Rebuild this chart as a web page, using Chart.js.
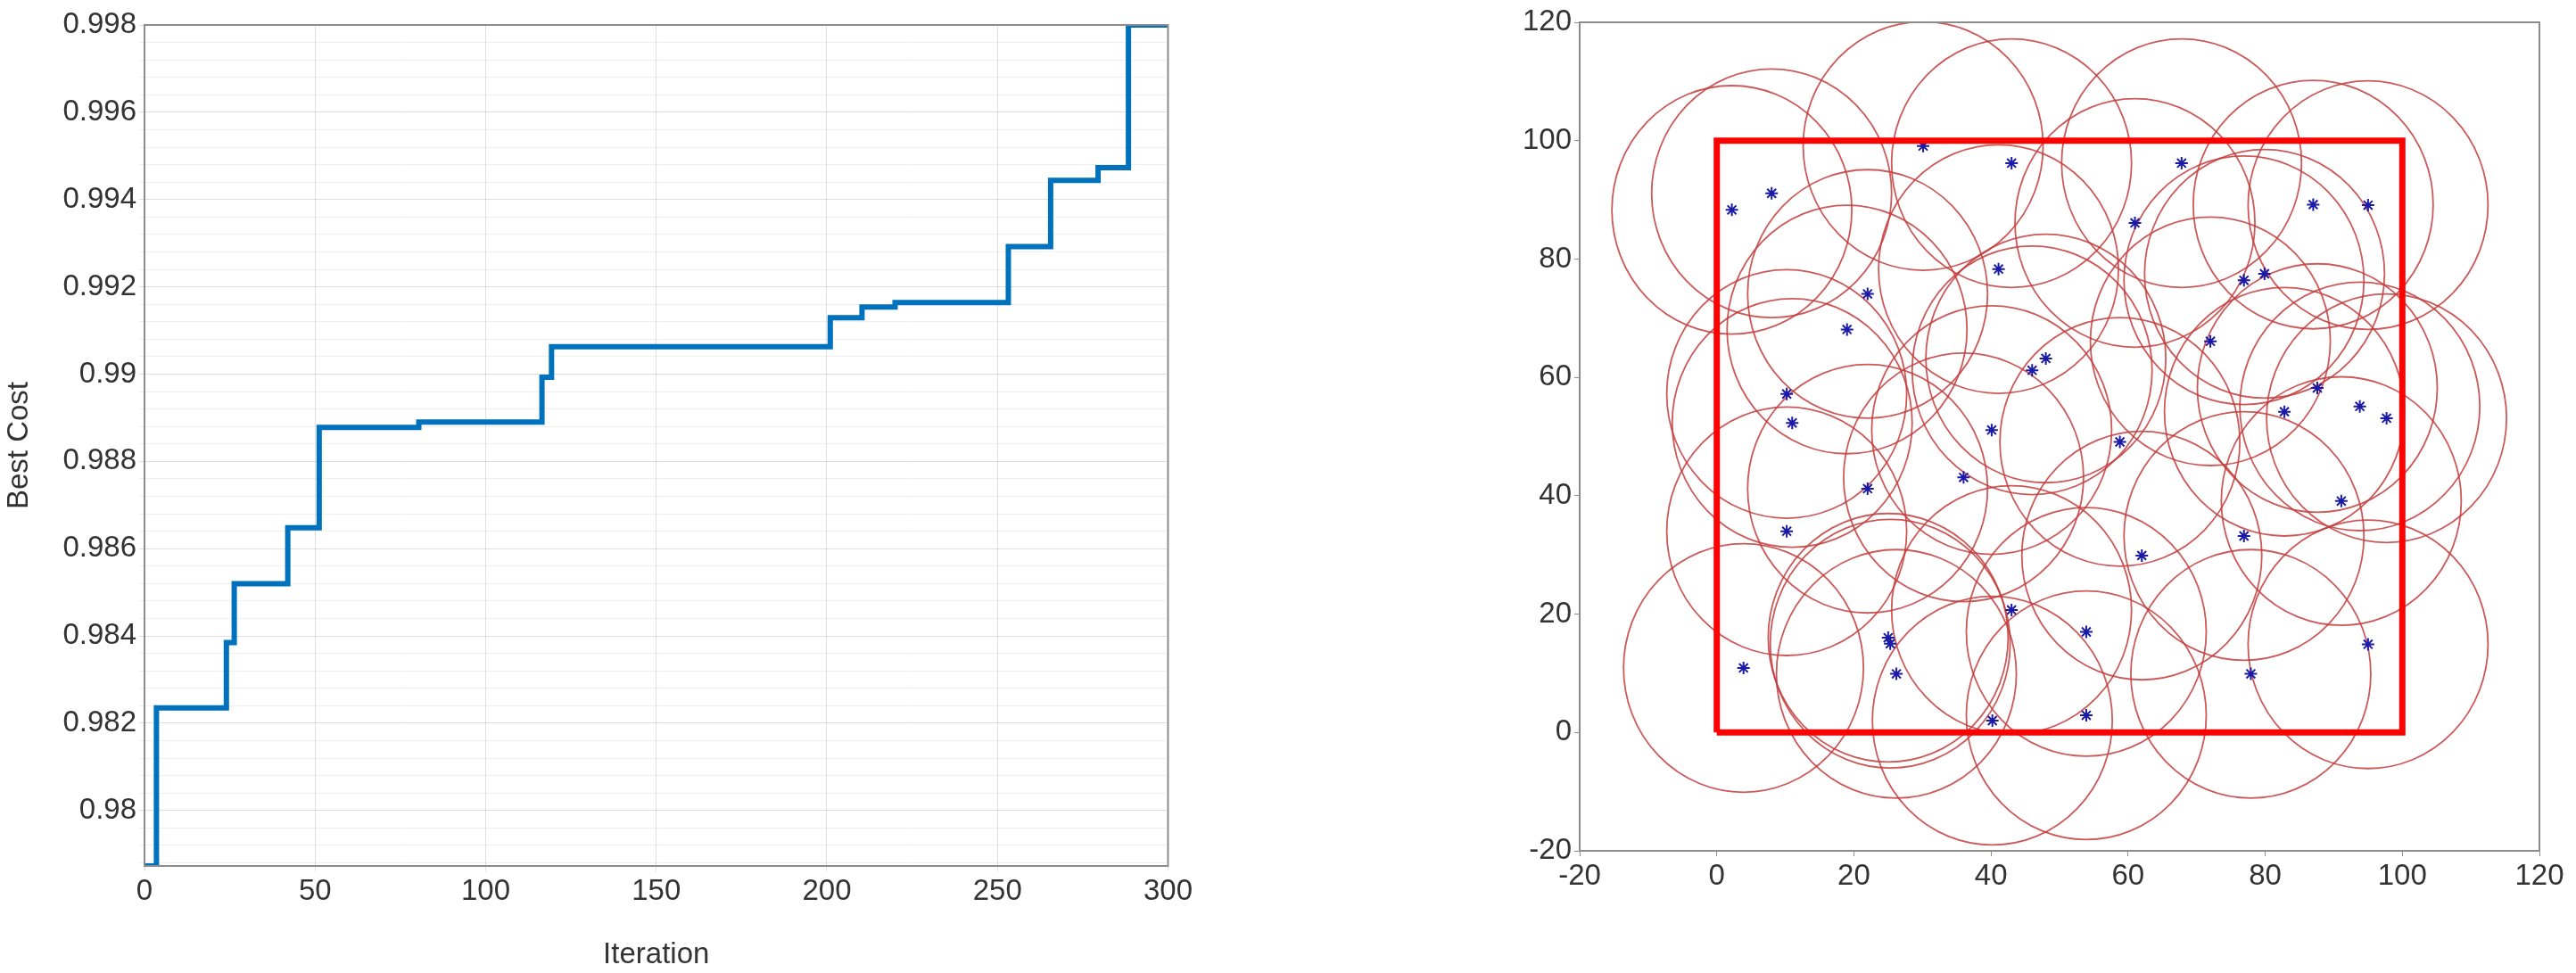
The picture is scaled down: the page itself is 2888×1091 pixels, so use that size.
<!DOCTYPE html>
<html>
<head>
<meta charset="utf-8">
<script src="https://cdn.jsdelivr.net/npm/chart.js@4.4.1/dist/chart.umd.min.js"></script>
<style>
  body { margin: 0; background: #fff; }
  .box { position: absolute; top: 0; height: 1091px; }
</style>
</head>
<body>
<div class="box" style="left:0;width:1340px"><canvas id="cost"></canvas></div>
<div class="box" style="left:1680px;width:1208px"><canvas id="cover"></canvas></div>
<script>
// convergence curve (step changes)
const iterations = [0, 3.5, 24, 26.3, 42, 51.2, 80.4, 116.5, 119.3, 201, 210.3, 220, 253.2, 265.6, 279.5, 288.4, 300];
const bestCost = [0.97873, 0.98235, 0.98385, 0.9852, 0.98648, 0.98878, 0.9889, 0.98993, 0.99063, 0.99129, 0.99154, 0.99164, 0.99292, 0.99444, 0.99473, 0.998, 0.998];

// sensor positions
const sensorX = [2.2, 8.0, 30.1, 43.0, 67.8, 61.0, 87.0, 95.0, 41.1, 22.0, 76.9, 79.9, 19.0, 72.0, 48.0, 46.0, 10.2, 11.0, 87.6, 82.8, 93.8, 97.7, 40.1, 58.8, 36.0, 22.0, 91.1, 10.2, 76.9, 62.0, 43.0, 53.9, 25.0, 25.3, 95.0, 3.9, 26.2, 77.9, 40.2, 53.9];
const sensorY = [88.3, 91.1, 99.1, 96.2, 96.2, 86.1, 89.2, 89.1, 78.3, 74.1, 76.4, 77.5, 68.1, 66.1, 63.2, 61.2, 57.2, 52.3, 58.2, 54.2, 55.1, 53.1, 51.1, 49.1, 43.1, 41.2, 39.1, 34.0, 33.2, 29.9, 20.7, 17.0, 16.0, 15.0, 14.9, 10.9, 9.9, 9.9, 2.0, 2.9];
const rangeX = 17.5, rangeY = 21; // sensing range as drawn on each axis

// monitored area
const areaX = [0, 100, 100, 0, 0];
const areaY = [0, 0, 100, 100, 0];

const font = { family: 'Liberation Sans, Arial, sans-serif', size: 33 };
const ink = '#333333';

const frame = {
  id: 'frame',
  afterDraw(chart) {
    const a = chart.chartArea, c = chart.ctx;
    c.save();
    c.strokeStyle = '#8c8c8c';
    c.lineWidth = 2;
    c.strokeRect(a.left, a.top, a.right - a.left, a.bottom - a.top);
    c.restore();
  }
};

new Chart(document.getElementById('cost'), {
  type: 'line',
  data: {
    datasets: [{
      data: iterations.map((x, i) => ({ x: x, y: bestCost[i] })),
      borderColor: '#0072BD',
      borderWidth: 6,
      pointRadius: 0,
      stepped: true
    }]
  },
  options: {
    animation: false,
    responsive: true,
    maintainAspectRatio: false,
    layout: { padding: { top: 28, right: 23 } },
    plugins: { legend: { display: false }, tooltip: { enabled: false } },
    scales: {
      x: {
        type: 'linear', min: 0, max: 300,
        afterFit: s => { s.height = 120; },
        ticks: { stepSize: 50, color: ink, font: font },
        grid: { color: 'rgba(0,0,0,0.12)', tickLength: 6 },
        border: { color: '#8c8c8c' },
        title: { display: true, text: 'Iteration', color: ink, font: font, padding: 0 }
      },
      y: {
        min: 0.97873, max: 0.998,
        afterFit: s => { s.width = 162; },
        afterBuildTicks: s => {
          const t = [];
          for (let k = 2447; k <= 2495; k++) t.push({ value: k * 0.0004 });
          s.ticks = t;
        },
        ticks: {
          color: ink, font: font, autoSkip: false,
          callback: v => (Math.round(v * 2500) % 5 === 0) ? +v.toFixed(3) : ''
        },
        grid: {
          color: c => (Math.round(c.tick.value * 2500) % 5 === 0) ? 'rgba(0,0,0,0.13)' : 'rgba(0,0,0,0.06)',
          tickLength: 6
        },
        border: { color: '#8c8c8c' },
        title: { display: true, text: 'Best Cost', color: ink, font: font, padding: 2 }
      }
    }
  },
  plugins: [frame]
});

const rings = {
  id: 'rings',
  beforeDatasetsDraw(chart) {
    const xs = chart.scales.x, ys = chart.scales.y, c = chart.ctx, a = chart.chartArea;
    c.save();
    c.beginPath();
    c.rect(a.left, a.top, a.right - a.left, a.bottom - a.top);
    c.clip();
    c.strokeStyle = 'rgba(195,60,60,0.85)';
    c.lineWidth = 1.8;
    sensorX.forEach((x, i) => {
      const cx = xs.getPixelForValue(x), cy = ys.getPixelForValue(sensorY[i]);
      const rx = xs.getPixelForValue(x + rangeX) - cx;
      const ry = cy - ys.getPixelForValue(sensorY[i] + rangeY);
      c.beginPath();
      c.ellipse(cx, cy, rx, ry, 0, 0, Math.PI * 2);
      c.stroke();
    });
    c.restore();
  }
};

new Chart(document.getElementById('cover'), {
  type: 'scatter',
  data: {
    datasets: [{
      data: areaX.map((x, i) => ({ x: x, y: areaY[i] })),
      showLine: true,
      borderColor: '#ff0000',
      borderWidth: 7,
      pointRadius: 0
    }, {
      data: sensorX.map((x, i) => ({ x: x, y: sensorY[i] })),
      pointStyle: 'star',
      pointRadius: 7,
      borderColor: '#1a1aa6',
      borderWidth: 2
    }]
  },
  options: {
    animation: false,
    responsive: true,
    maintainAspectRatio: false,
    layout: { padding: { top: 25, right: 41 } },
    plugins: { legend: { display: false }, tooltip: { enabled: false } },
    scales: {
      x: {
        min: -20, max: 120,
        afterFit: s => { s.height = 137; },
        ticks: { stepSize: 20, color: ink, font: font },
        grid: { drawOnChartArea: false, tickLength: 6, color: '#8c8c8c' },
        border: { color: '#8c8c8c' }
      },
      y: {
        min: -20, max: 120,
        afterFit: s => { s.width = 91; },
        ticks: { stepSize: 20, color: ink, font: font },
        grid: { drawOnChartArea: false, tickLength: 6, color: '#8c8c8c' },
        border: { color: '#8c8c8c' }
      }
    }
  },
  plugins: [rings, frame]
});
</script>
</body>
</html>
